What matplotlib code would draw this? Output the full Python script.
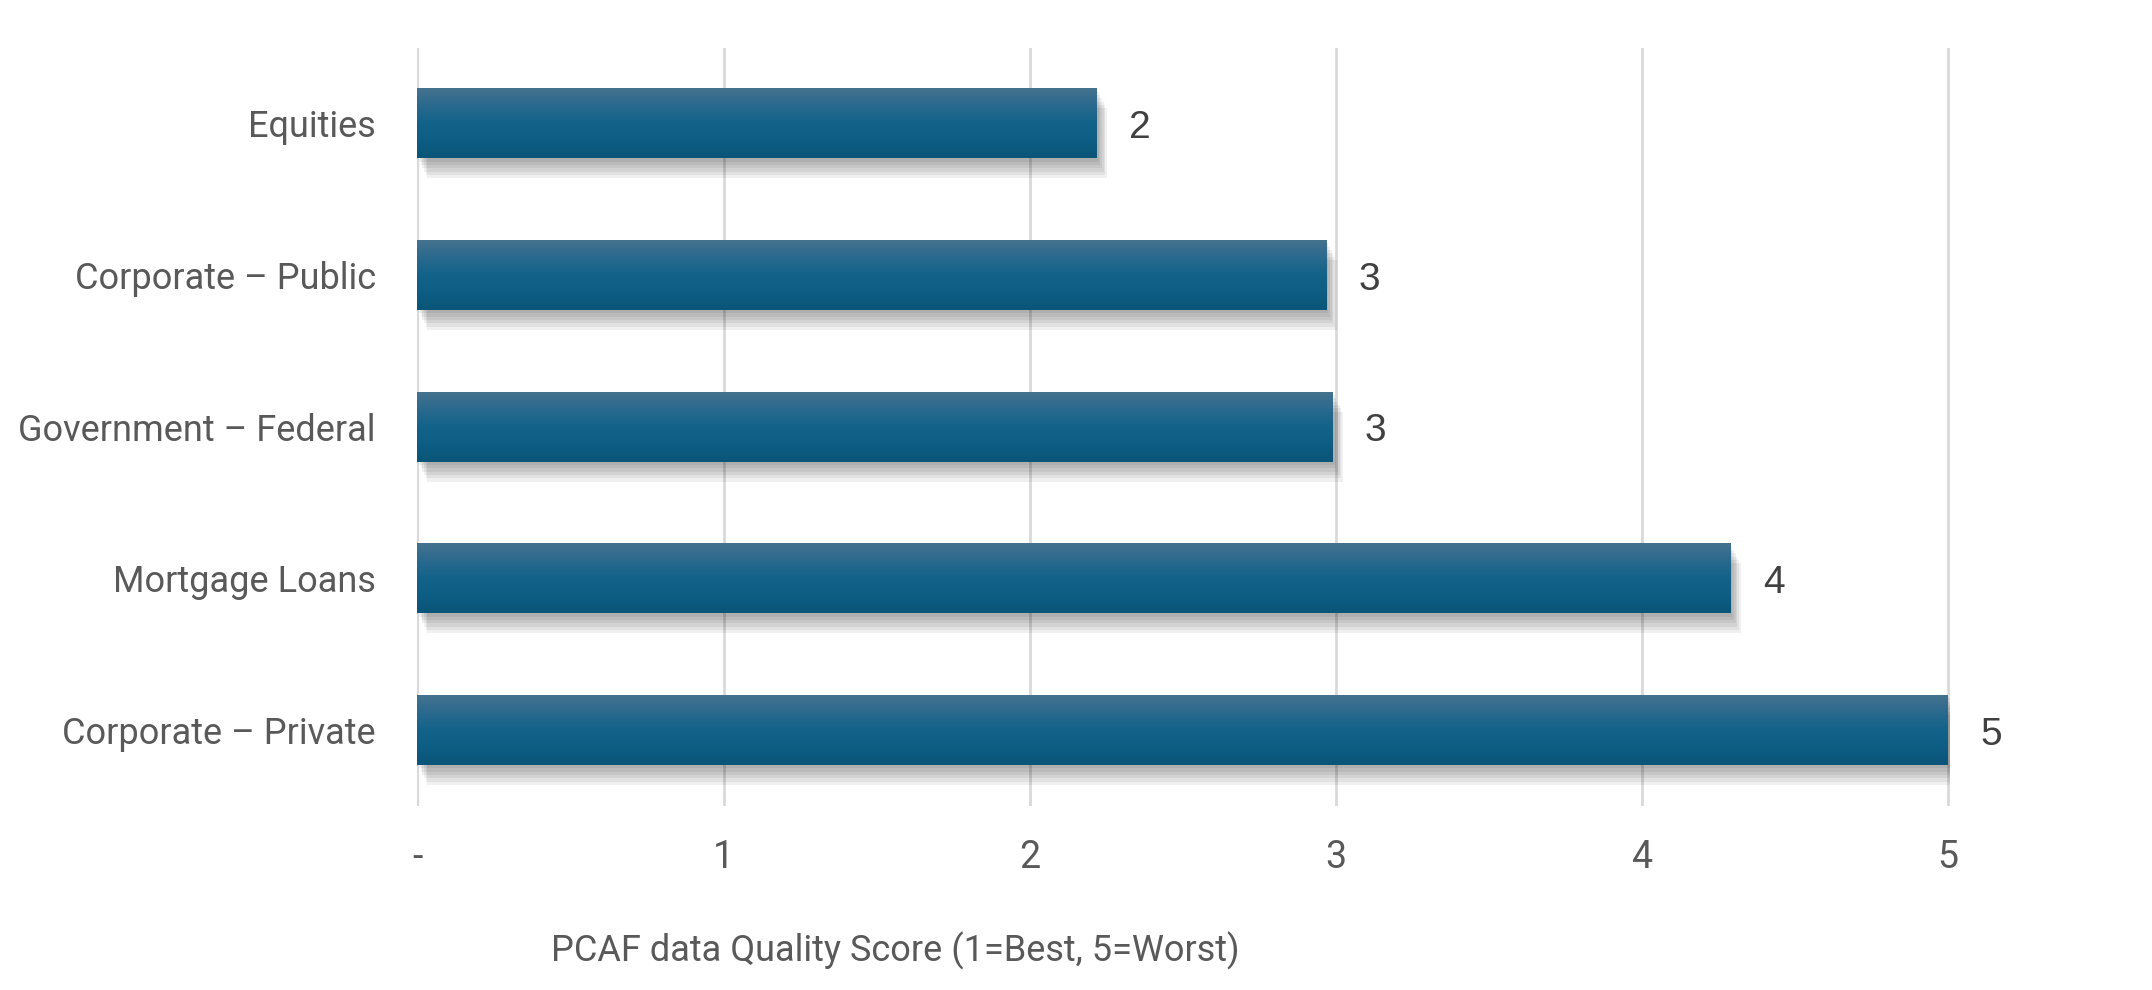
import numpy as np
import matplotlib
matplotlib.use("Agg")
import matplotlib.pyplot as plt
import matplotlib.patheffects as pe
from matplotlib.colors import LinearSegmentedColormap

# data
categories = ["Equities", "Corporate – Public", "Government – Federal", "Mortgage Loans", "Corporate – Private"]
scores = [2.22, 2.97, 2.99, 4.29, 5.0]
score_labels = ["2", "3", "3", "4", "5"]
tick_values = [0, 1, 2, 3, 4, 5]
tick_labels = ["-", "1", "2", "3", "4", "5"]

narrow = ["Roboto", "DejaVu Sans"]

fig = plt.figure(figsize=(21.52, 9.9), dpi=100)
ax = fig.add_axes([0.194, 0.186, 0.712, 0.766])

y = np.arange(len(categories))
bars = ax.barh(y, scores, height=0.46, color="#0f5f85", zorder=3)

# gradient fill (light at top) + soft shadow
grad = LinearSegmentedColormap.from_list("g", ["#44728f", "#2a6a8e", "#12628a", "#0e5d84", "#0a5578"])
shadow = [pe.SimplePatchShadow(offset=(o * 0.6, -o * 1.2), shadow_rgbFace="#000000", alpha=0.06)
          for o in (2, 4, 6, 8, 10, 12)]
for b in bars:
    b.set_path_effects(shadow + [pe.Normal()])
    x0, y0, w, h = b.get_x(), b.get_y(), b.get_width(), b.get_height()
    img = ax.imshow(np.linspace(0, 1, 100).reshape(-1, 1), cmap=grad, aspect="auto",
                    extent=(x0, x0 + w, y0 + h, y0), origin="upper", zorder=4)
    img.set_clip_path(b)

# value labels
for yi, v, lab in zip(y, scores, score_labels):
    ax.text(v + 0.105, yi + 0.03, lab, va="center", ha="left", fontsize=28,
            family="Liberation Sans", color="#404040")

ax.set_xlim(0, 5.005)
ax.set_ylim(len(categories) - 0.5, -0.5)
ax.set_xticks(tick_values)
ax.set_xticklabels(tick_labels, family=narrow, fontsize=27, color="#595959")
ax.set_yticks(y)
ax.set_yticklabels(categories, family=narrow, fontsize=26, color="#595959")
ax.tick_params(length=0)
ax.tick_params(axis="y", pad=30)
ax.tick_params(axis="x", pad=24)
ax.grid(axis="x", color="#d9d9d9", linewidth=2, zorder=0)
for s in ax.spines.values():
    s.set_visible(False)
ax.axvline(0, color="#d9d9d9", linewidth=3, zorder=1)

fig.text(0.416, 0.04, "PCAF data Quality Score (1=Best, 5=Worst)", ha="center", va="center",
         family=narrow, fontsize=26, color="#595959")

fig.savefig("out.png", dpi=100)
